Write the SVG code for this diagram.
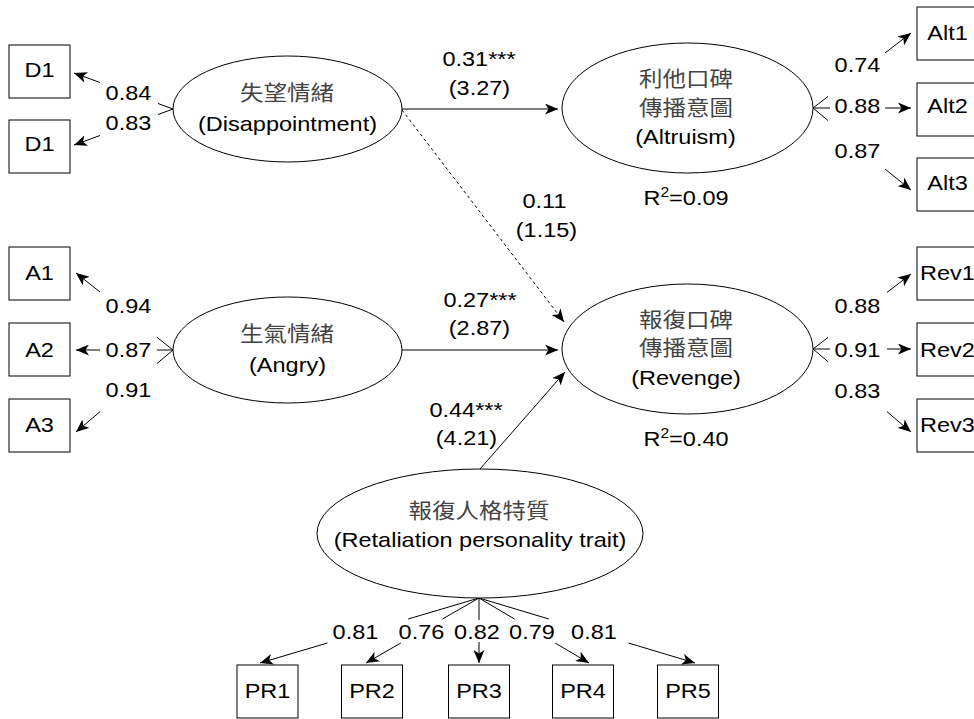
<svg xmlns="http://www.w3.org/2000/svg" width="974" height="719" viewBox="0 0 974 719">
<defs>
<style>
.box{fill:#fff;stroke:#000;stroke-width:1}
.ell{fill:#fff;stroke:#000;stroke-width:1}
.ln{stroke:#000;stroke-width:1;fill:none}
.arr{marker-end:url(#ah)}
.dash{stroke-dasharray:3 3}
text{font-family:"Liberation Sans","Noto Sans CJK TC",Arial,sans-serif;font-size:21px;fill:#000;text-anchor:middle}
.cjk{fill:#444}
</style>
<marker id="ah" markerUnits="userSpaceOnUse" viewBox="-13 -5.5 13 11" refX="0" refY="0" markerWidth="13" markerHeight="11" orient="auto">
<path d="M0,0 L-13,-5.5 L-9.5,0 L-13,5.5 Z" fill="#000"/>
</marker>
</defs>
<rect width="974" height="719" fill="#fff"/>

<g id="connectors">
<line class="ln" x1="173" y1="109" x2="158" y2="103.5"/>
<line class="ln arr" x1="100" y1="82.5" x2="74" y2="73"/>
<line class="ln" x1="173" y1="109" x2="158" y2="114.5"/>
<line class="ln arr" x1="100" y1="135.5" x2="74" y2="145"/>
<line class="ln" x1="173" y1="350" x2="157" y2="337.3"/>
<line class="ln arr" x1="100" y1="292" x2="76" y2="273"/>
<line class="ln" x1="173" y1="350" x2="157" y2="350"/>
<line class="ln arr" x1="100" y1="350" x2="76" y2="350"/>
<line class="ln" x1="173" y1="350" x2="157" y2="363.5"/>
<line class="ln arr" x1="100" y1="411.7" x2="76" y2="432"/>
<line class="ln" x1="813" y1="108" x2="828" y2="96.5"/>
<line class="ln arr" x1="885" y1="53" x2="911" y2="33"/>
<line class="ln" x1="813" y1="108" x2="830" y2="108"/>
<line class="ln arr" x1="885" y1="108" x2="911" y2="108"/>
<line class="ln" x1="813" y1="108" x2="828" y2="120.5"/>
<line class="ln arr" x1="885" y1="169" x2="911" y2="190"/>
<line class="ln" x1="813" y1="349" x2="828" y2="337.5"/>
<line class="ln arr" x1="887" y1="292.4" x2="911" y2="274"/>
<line class="ln" x1="813" y1="349" x2="830" y2="349"/>
<line class="ln arr" x1="887" y1="349" x2="911" y2="349"/>
<line class="ln" x1="813" y1="349" x2="828" y2="361.7"/>
<line class="ln arr" x1="887" y1="411.7" x2="911" y2="432"/>
<line class="ln" x1="479" y1="598" x2="408.2" y2="619"/>
<line class="ln arr" x1="327.4" y1="643" x2="260" y2="663"/>
<line class="ln" x1="479" y1="598" x2="442.5" y2="619"/>
<line class="ln arr" x1="400.8" y1="643" x2="366" y2="663"/>
<line class="ln" x1="479" y1="598" x2="479" y2="620"/>
<line class="ln arr" x1="479" y1="642" x2="479" y2="663"/>
<line class="ln" x1="479" y1="598" x2="514.5" y2="619"/>
<line class="ln arr" x1="555.2" y1="643" x2="589" y2="663"/>
<line class="ln" x1="479" y1="598" x2="548.8" y2="619"/>
<line class="ln arr" x1="628.5" y1="643" x2="695" y2="663"/>
<line class="ln arr" x1="402" y1="109" x2="558" y2="109"/>
<line class="ln arr" x1="402" y1="350" x2="558" y2="350"/>
<line class="ln arr dash" x1="402" y1="110" x2="564" y2="322"/>
<line class="ln arr" x1="480" y1="469" x2="565" y2="372"/>
</g>

<g id="labels">
<text transform="translate(128.5,100) scale(1.12,1)">0.84</text>
<text transform="translate(128.5,130) scale(1.12,1)">0.83</text>
<text transform="translate(128.5,313) scale(1.12,1)">0.94</text>
<text transform="translate(128.5,356.5) scale(1.12,1)">0.87</text>
<text transform="translate(128.5,397) scale(1.12,1)">0.91</text>
<text transform="translate(857.5,72) scale(1.12,1)">0.74</text>
<text transform="translate(857.5,113) scale(1.12,1)">0.88</text>
<text transform="translate(857.5,158) scale(1.12,1)">0.87</text>
<text transform="translate(857.5,313) scale(1.12,1)">0.88</text>
<text transform="translate(857.5,356.5) scale(1.12,1)">0.91</text>
<text transform="translate(857.5,398) scale(1.12,1)">0.83</text>
<text transform="translate(355.5,639) scale(1.12,1)">0.81</text>
<text transform="translate(421.5,639) scale(1.12,1)">0.76</text>
<text transform="translate(477,639) scale(1.12,1)">0.82</text>
<text transform="translate(532,639) scale(1.12,1)">0.79</text>
<text transform="translate(594,639) scale(1.12,1)">0.81</text>
<text transform="translate(479,66) scale(1.12,1)">0.31***</text>
<text transform="translate(479.5,95) scale(1.12,1)">(3.27)</text>
<text transform="translate(480,307) scale(1.12,1)">0.27***</text>
<text transform="translate(479.5,335) scale(1.12,1)">(2.87)</text>
<text transform="translate(544.5,208) scale(1.12,1)">0.11</text>
<text transform="translate(546.5,237) scale(1.12,1)">(1.15)</text>
<text transform="translate(466,417) scale(1.12,1)">0.44***</text>
<text transform="translate(466.5,445) scale(1.12,1)">(4.21)</text>
<text transform="translate(686,205) scale(1.12,1)">R<tspan font-size="14" dy="-8">2</tspan><tspan dy="8">=0.09</tspan></text>
<text transform="translate(686,446) scale(1.12,1)">R<tspan font-size="14" dy="-8">2</tspan><tspan dy="8">=0.40</tspan></text>
</g>

<g id="node-disappointment">
<ellipse class="ell" cx="287.5" cy="109" rx="114.5" ry="53"/>
<text class="cjk" transform="translate(287,100) scale(1.12,1)">失望情緒</text>
<text transform="translate(287.5,131) scale(1.12,1)">(Disappointment)</text>
</g>
<g id="node-angry">
<ellipse class="ell" cx="287.5" cy="350" rx="114.5" ry="53"/>
<text class="cjk" transform="translate(287,341) scale(1.12,1)">生氣情緒</text>
<text transform="translate(287.5,371.5) scale(1.12,1)">(Angry)</text>
</g>
<g id="node-altruism">
<ellipse class="ell" cx="687.5" cy="108" rx="125.5" ry="65"/>
<text class="cjk" transform="translate(686,86) scale(1.12,1)">利他口碑</text>
<text class="cjk" transform="translate(686,115) scale(1.12,1)">傳播意圖</text>
<text transform="translate(685.5,144) scale(1.12,1)">(Altruism)</text>
</g>
<g id="node-revenge">
<ellipse class="ell" cx="687.5" cy="349" rx="125.5" ry="65"/>
<text class="cjk" transform="translate(686,327) scale(1.12,1)">報復口碑</text>
<text class="cjk" transform="translate(686,355) scale(1.12,1)">傳播意圖</text>
<text transform="translate(686,385) scale(1.12,1)">(Revenge)</text>
</g>
<g id="node-retaliation">
<ellipse class="ell" cx="480" cy="533.5" rx="163" ry="64.5"/>
<text class="cjk" transform="translate(479,518) scale(1.12,1)">報復人格特質</text>
<text transform="translate(480,546.5) scale(1.12,1)">(Retaliation personality trait)</text>
</g>

<g id="node-D1a"><rect class="box" x="9" y="45" width="61" height="53"/><text transform="translate(39.5,77) scale(1.12,1)">D1</text></g>
<g id="node-D1b"><rect class="box" x="9" y="120" width="61" height="53"/><text transform="translate(39.5,151) scale(1.12,1)">D1</text></g>
<g id="node-A1"><rect class="box" x="9" y="247" width="61" height="53"/><text transform="translate(39.5,280) scale(1.12,1)">A1</text></g>
<g id="node-A2"><rect class="box" x="9" y="323" width="61" height="53"/><text transform="translate(39.5,356.5) scale(1.12,1)">A2</text></g>
<g id="node-A3"><rect class="box" x="9" y="399" width="61" height="53"/><text transform="translate(39.5,432) scale(1.12,1)">A3</text></g>
<g id="node-Alt1"><rect class="box" x="917" y="7" width="61" height="53"/><text transform="translate(947.5,40) scale(1.12,1)">Alt1</text></g>
<g id="node-Alt2"><rect class="box" x="917" y="83" width="61" height="53"/><text transform="translate(947.5,113) scale(1.12,1)">Alt2</text></g>
<g id="node-Alt3"><rect class="box" x="917" y="158" width="61" height="53"/><text transform="translate(947.5,190) scale(1.12,1)">Alt3</text></g>
<g id="node-Rev1"><rect class="box" x="917" y="247" width="61" height="53"/><text transform="translate(947.5,280) scale(1.12,1)">Rev1</text></g>
<g id="node-Rev2"><rect class="box" x="917" y="323" width="61" height="53"/><text transform="translate(947.5,356.5) scale(1.12,1)">Rev2</text></g>
<g id="node-Rev3"><rect class="box" x="917" y="399" width="61" height="53"/><text transform="translate(947.5,432) scale(1.12,1)">Rev3</text></g>
<g id="node-PR1"><rect class="box" x="237" y="665" width="61" height="53"/><text transform="translate(267.5,698) scale(1.12,1)">PR1</text></g>
<g id="node-PR2"><rect class="box" x="341.5" y="665" width="61" height="53"/><text transform="translate(372,698) scale(1.12,1)">PR2</text></g>
<g id="node-PR3"><rect class="box" x="448.5" y="665" width="61" height="53"/><text transform="translate(479,698) scale(1.12,1)">PR3</text></g>
<g id="node-PR4"><rect class="box" x="552.5" y="665" width="61" height="53"/><text transform="translate(583,698) scale(1.12,1)">PR4</text></g>
<g id="node-PR5"><rect class="box" x="657.5" y="665" width="61" height="53"/><text transform="translate(688,698) scale(1.12,1)">PR5</text></g>
</svg>
